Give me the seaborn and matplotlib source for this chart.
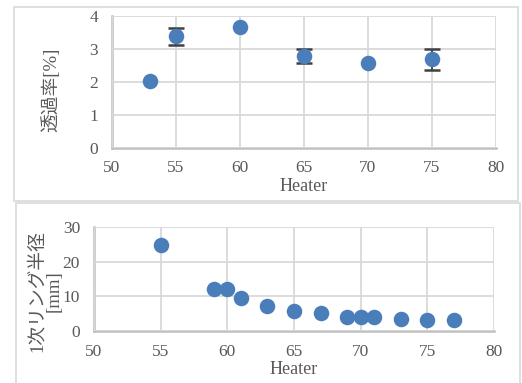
import matplotlib
matplotlib.use("Agg")
import matplotlib.pyplot as plt
import seaborn as sns
import pandas as pd
from matplotlib.patches import Rectangle

# ---- data ----
heater_top = [53, 55, 60, 65, 70, 75]
transmittance = [2.02, 3.38, 3.66, 2.79, 2.58, 2.69]
err_low = [0.0, 0.26, 0.0, 0.22, 0.0, 0.33]
err_high = [0.0, 0.27, 0.0, 0.22, 0.0, 0.31]

heater_bot = [55, 59, 60, 61, 63, 65, 67, 69, 70, 71, 73, 75, 77]
ring_radius = [24.7, 12.2, 12.0, 9.6, 7.3, 5.9, 5.1, 4.1, 3.9, 3.9, 3.5, 3.3, 3.1]

x_ticks = [50, 55, 60, 65, 70, 75, 80]
y_ticks_top = [0, 1, 2, 3, 4]
y_ticks_bot = [0, 10, 20, 30]

xlabel = "Heater"
ylabel_top = "透過率[%]"
ylabel_bot = "1次リング半径\n[mm]"

sns.set_theme(style="white")
plt.rcParams['font.family'] = ['Liberation Serif', 'Noto Sans CJK JP', 'DejaVu Sans']

W, H = 522, 383
fig = plt.figure(figsize=(W / 100, H / 100), dpi=100)

BLUE = "#4A7EBB"
TXT = "#595959"
GRID = "#D9D9D9"
SPINE = "#BFBFBF"

# outer frames
fig.patches.append(Rectangle((13.5 / W, 1 - 201 / H), (518 - 13.5) / W, (201 - 7) / H,
                             transform=fig.transFigure, fill=False, edgecolor=GRID, linewidth=1.2))
fig.patches.append(Rectangle((15.5 / W, 1 - 390 / H), (520 - 15.5) / W, (390 - 203) / H,
                             transform=fig.transFigure, fill=False, edgecolor=GRID, linewidth=1.2))


def style_axes(ax, yticks):
    ax.set_xlim(50, 80)
    ax.set_xticks(x_ticks)
    ax.set_ylim(yticks[0], yticks[-1])
    ax.set_yticks(yticks)
    ax.grid(True, color=GRID, linewidth=1.3)
    ax.set_axisbelow(True)
    for s in ["top", "right"]:
        ax.spines[s].set_visible(False)
    for s in ["left", "bottom"]:
        ax.spines[s].set_color(SPINE)
        ax.spines[s].set_linewidth(1.8)
        ax.spines[s].set_zorder(0.5)
    ax.tick_params(axis="both", length=0, labelsize=12.5, labelcolor=TXT)
    ax.tick_params(axis="x", pad=9)
    ax.tick_params(axis="y", pad=10)
    ax.set_xlabel(xlabel, fontsize=13, color=TXT, labelpad=1)


# top axes
ax1 = fig.add_axes([112 / W, 1 - 148 / H, (496 - 112) / W, (148 - 16) / H])
df_top = pd.DataFrame({"Heater": heater_top, "T": transmittance,
                       "lo": err_low, "hi": err_high})
df_err = df_top[(df_top["lo"] > 0) | (df_top["hi"] > 0)]
ax1.errorbar(df_err["Heater"], df_err["T"], yerr=[df_err["lo"], df_err["hi"]], fmt="none",
             ecolor="#404040", elinewidth=1.3, capsize=5.5, capthick=1.8, zorder=2)
sns.scatterplot(data=df_top, x="Heater", y="T", ax=ax1, s=125, color=BLUE,
                edgecolor=BLUE, linewidth=0, zorder=3, clip_on=False)
style_axes(ax1, y_ticks_top)
ax1.set_ylabel(ylabel_top, fontsize=13.5, color=TXT)
ax1.yaxis.set_label_coords((60 - 112) / 384, 0.44)

# bottom axes
ax2 = fig.add_axes([94 / W, 1 - 331 / H, (494 - 94) / W, (331 - 227) / H])
df_bot = pd.DataFrame({"Heater": heater_bot, "R": ring_radius})
sns.scatterplot(data=df_bot, x="Heater", y="R", ax=ax2, s=125, color=BLUE,
                edgecolor=BLUE, linewidth=0, zorder=3, clip_on=False)
style_axes(ax2, y_ticks_bot)
ax2.set_ylabel(ylabel_bot, fontsize=13.5, color=TXT, linespacing=1.0)
ax2.yaxis.set_label_coords((63 - 94) / 400, 0.385)

fig.savefig("out.png", dpi=100)
